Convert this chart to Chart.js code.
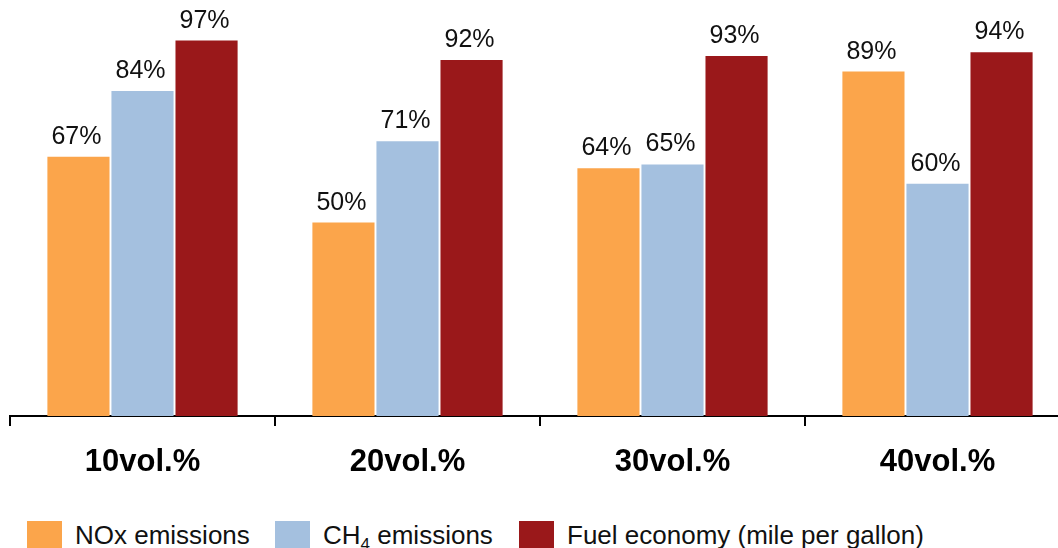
<!DOCTYPE html>
<html>
<head>
<meta charset="utf-8">
<script src="https://cdn.jsdelivr.net/npm/chart.js@4"></script>
<style>
  html, body { margin: 0; padding: 0; background: #fff; overflow: hidden; }
  body { width: 1058px; height: 548px; position: relative; font-family: "Liberation Sans", Arial, sans-serif; }
  #wrap { position: absolute; left: 0; top: 0; width: 1072px; height: 490px; }
  .legend-item { position: absolute; top: 521px; display: flex; align-items: center; font-size: 26px; color: #111; white-space: nowrap; }
  .legend-item .box { width: 35px; height: 28px; margin-right: 13px; flex: none; }
  .legend-item .t { line-height: 28px; }
  .legend-item sub { font-size: 17px; vertical-align: -6px; line-height: 0; }
</style>
</head>
<body>
<div id="wrap"><canvas id="chart"></canvas></div>
<div class="legend-item" style="left:27px"><span class="box" style="background:#FBA54B"></span><span class="t">NOx emissions</span></div>
<div class="legend-item" style="left:275px"><span class="box" style="background:#A4C0DF"></span><span class="t">CH<sub>4</sub> emissions</span></div>
<div class="legend-item" style="left:519px"><span class="box" style="background:#9A181A"></span><span class="t">Fuel economy (mile per gallon)</span></div>
<script>
// categories and series values
const categories = ['10vol.%', '20vol.%', '30vol.%', '40vol.%'];
const noxValues = [67, 50, 64, 89];
const ch4Values = [84, 71, 65, 60];
const fuelValues = [97, 92, 93, 94];

const FONT = '"Liberation Sans", Arial, sans-serif';

// draws the "NN%" labels above each bar
const valueLabels = {
  id: 'valueLabels',
  afterDatasetsDraw(chart) {
    const ctx = chart.ctx;
    ctx.save();
    ctx.font = '25px ' + FONT;
    ctx.fillStyle = '#111';
    ctx.textAlign = 'center';
    ctx.textBaseline = 'alphabetic';
    chart.data.datasets.forEach((ds, i) => {
      chart.getDatasetMeta(i).data.forEach((bar, j) => {
        ctx.fillText(ds.data[j] + '%', bar.x - 2, bar.y - 13);
      });
    });
    ctx.restore();
  }
};

new Chart(document.getElementById('chart'), {
  type: 'bar',
  data: {
    labels: categories,
    datasets: [
      { label: 'NOx emissions', data: noxValues, backgroundColor: '#FBA54B' },
      { label: 'CH4 emissions', data: ch4Values, backgroundColor: '#A4C0DF' },
      { label: 'Fuel economy (mile per gallon)', data: fuelValues, backgroundColor: '#9A181A' },
    ],
  },
  options: {
    responsive: true,
    maintainAspectRatio: false,
    animation: false,
    layout: { padding: { top: 29, left: 10, right: 2, bottom: 0 } },
    datasets: { bar: { categoryPercentage: 0.725, barPercentage: 0.97 } },
    plugins: { legend: { display: false }, tooltip: { enabled: false } },
    scales: {
      x: {
        offset: true,
        grid: { offset: true, drawOnChartArea: false, drawTicks: true, tickLength: 10, color: '#000', lineWidth: 2 },
        border: { display: true, color: '#000', width: 2 },
        ticks: { color: '#000', padding: 18, font: { family: FONT, size: 31, weight: 'bold' } },
        afterFit: (s) => { s.height = 74; },
      },
      y: { display: false, min: 0, max: 100 },
    },
  },
  plugins: [valueLabels],
});
</script>
</body>
</html>
